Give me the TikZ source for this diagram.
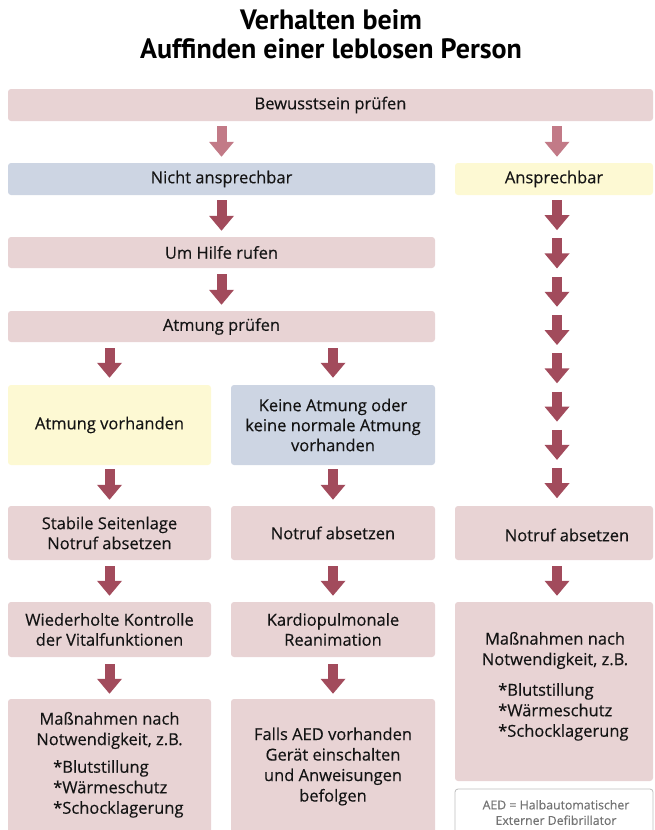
\documentclass[tikz,border=0pt]{standalone}
\usepackage{fontspec}
\setmainfont{Open Sans}[FakeBold=0.3]
\newfontfamily\titlefont{PT Sans}
\usetikzlibrary{arrows.meta,calc}
\definecolor{boxpink}{HTML}{E8D3D4}
\definecolor{boxblue}{HTML}{CDD5E3}
\definecolor{boxyellow}{HTML}{FDF9D3}
\definecolor{arrowred}{HTML}{A24B5C}
\definecolor{arrowlight}{HTML}{C27A87}
\definecolor{txt}{HTML}{141414}
\begin{document}
\begin{tikzpicture}[x=1pt,y=-1pt,
  box/.style={rounded corners=3pt,inner sep=0pt,align=center,text=txt,
    font=\fontsize{16.5}{20}\selectfont},
  pinkbox/.style={box,fill=boxpink},
  bluebox/.style={box,fill=boxblue},
  yellowbox/.style={box,fill=boxyellow},
  barrow/.style={draw=arrowred,line width=10pt,-{Triangle[width=24pt,length=15pt]},arrowred},
  lightarrow/.style={barrow,draw=arrowlight,arrowlight},
  plain/.style={inner sep=0pt,align=center,text=txt,font=\fontsize{16.5}{20.5}\selectfont}
]
\useasboundingbox (0,0) rectangle (654,830);
% title
\node[font=\titlefont\fontsize{28}{29}\bfseries\selectfont,align=center,inner sep=0pt] (title) at (331,34) {Verhalten beim\\Auffinden einer leblosen Person};
% boxes
\node[pinkbox,minimum width=645pt,minimum height=32pt] (b1) at (330.5,105) {Bewusstsein prüfen};
\node[bluebox,minimum width=427pt,minimum height=32pt] (nicht) at (221.5,179) {Nicht ansprechbar};
\node[yellowbox,minimum width=198pt,minimum height=32pt] (ansp) at (554,179) {Ansprechbar};
\node[pinkbox,minimum width=427pt,minimum height=31pt] (hilfe) at (221.5,252.5) {Um Hilfe rufen};
\node[pinkbox,minimum width=427pt,minimum height=31pt] (atm) at (221.5,326.5) {Atmung prüfen};
\node[yellowbox,minimum width=203pt,minimum height=80pt] (av) at (109.5,425) {Atmung vorhanden};
\node[bluebox,minimum width=204pt,minimum height=80pt] (ka) at (333,425) {Keine Atmung oder\\keine normale Atmung\\vorhanden};
\node[pinkbox,minimum width=203pt,minimum height=54pt] (stab) at (109.5,533) {Stabile Seitenlage\\Notruf absetzen};
\node[pinkbox,minimum width=204pt,minimum height=54pt] (not2) at (333,533) {Notruf absetzen};
\node[pinkbox,minimum width=198pt,minimum height=54pt] (not3) at (554,533) {};
\node[pinkbox,minimum width=203pt,minimum height=55pt] (wied) at (109.5,629.5) {Wiederholte Kontrolle\\der Vitalfunktionen};
\node[pinkbox,minimum width=204pt,minimum height=55pt] (kard) at (333,629.5) {Kardiopulmonale\\Reanimation};
\node[pinkbox,minimum width=198pt,minimum height=179pt] (mass3) at (554,691.5) {};
\node[pinkbox,minimum width=203pt,minimum height=141pt] (mass1) at (109.5,769.5) {};
\node[pinkbox,minimum width=204pt,minimum height=141pt] (falls) at (333,769.5) {};
\node[box,draw=black!25,fill=white,line width=0.8pt,minimum width=198pt,minimum height=60pt] (leg) at (554,819) {};
% texts in boxes placed separately
\node[plain] (not3t) at (567,535) {Notruf absetzen};
\node[plain] (m3a) at (555,650.5) {Maßnahmen nach\\Notwendigkeit, z.B.};
\node[plain,align=left,anchor=north west] (m3b) at (498,683) {*Blutstillung\\*Wärmeschutz\\*Schocklagerung};
\node[plain] (m1a) at (109.5,730.5) {Maßnahmen nach\\Notwendigkeit, z.B.};
\node[plain,align=left,anchor=north west] (m1b) at (53,760) {*Blutstillung\\*Wärmeschutz\\*Schocklagerung};
\node[plain] (fa) at (333,766.5) {Falls AED vorhanden\\Gerät einschalten\\und Anweisungen\\befolgen};
\node[inner sep=0pt,align=center,text=black!55,font=\fontsize{12.3}{15.5}\selectfont] (legt) at (556,812.5) {AED = Halbautomatischer\\Externer Defibrillator};
% arrows
\draw[lightarrow] ($(nicht.north |- b1.south)+(0,5)$) -- ($(nicht.north)+(0,-6)$);
\draw[lightarrow] ($(ansp.north |- b1.south)+(3,5)$) -- ($(ansp.north)+(3,-6)$);
\draw[barrow] ($(nicht.south)+(0,5)$) -- ($(hilfe.north)+(0,-6)$);
\draw[barrow] ($(hilfe.south)+(0,6)$) -- ($(atm.north)+(0,-6)$);
\draw[barrow] ($(av.north |- atm.south)+(0,6)$) -- ($(av.north)+(0,-7)$);
\draw[barrow] ($(ka.north |- atm.south)+(0,6)$) -- ($(ka.north)+(0,-7)$);
\draw[barrow] ($(av.south)+(0,4)$) -- ($(stab.north)+(0,-6)$);
\draw[barrow] ($(ka.south)+(0,4)$) -- ($(not2.north)+(0,-6)$);
\draw[barrow] ($(stab.south)+(0,6)$) -- ($(wied.north)+(0,-6)$);
\draw[barrow] ($(not2.south)+(0,6)$) -- ($(kard.north)+(0,-6)$);
\draw[barrow] ($(not3.south)+(3,6)$) -- ($(mass3.north)+(3,-6)$);
\draw[barrow] ($(wied.south)+(0,7)$) -- ($(mass1.north)+(0,-5)$);
\draw[barrow] ($(kard.south)+(0,7)$) -- ($(falls.north)+(0,-5)$);
\foreach \i in {0,...,7}{
  \coordinate (rs\i) at ($(ansp.south)+(3,5+38.29*\i)$);
  \draw[barrow] (rs\i) -- ++(0,30);
}
\end{tikzpicture}
\end{document}
